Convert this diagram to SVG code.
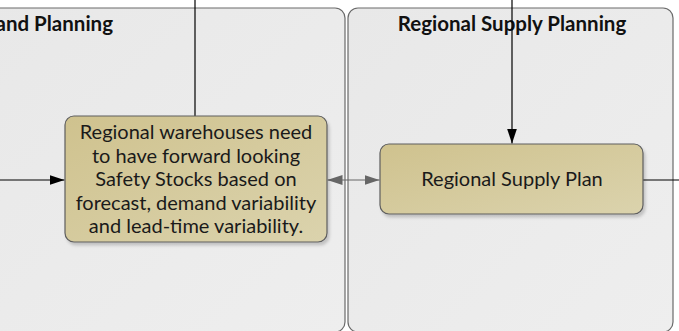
<svg xmlns="http://www.w3.org/2000/svg" width="679" height="331" viewBox="0 0 679 331">
  <style>
    .lane { fill: url(#laneFill); stroke: #6a6a6a; stroke-width: 1.2; }
    .lane-title { font-family: Lato, "Open Sans", sans-serif; font-weight: bold; font-size: 20.5px; fill: #111; }
    .task { fill: url(#taskFill); stroke: #5e5e5e; stroke-width: 1.2; }
    .task-text { font-family: Lato, "Open Sans", sans-serif; font-size: 20px; fill: #1a1a1a; text-anchor: middle; }
    .flow { fill: none; stroke: #000; stroke-width: 1.2; }
    .assoc { fill: none; stroke: #666; stroke-width: 1.2; }
  </style>
  <defs>
    <linearGradient id="laneFill" x1="0" y1="0" x2="1" y2="1">
      <stop offset="0" stop-color="#e8e8e8"/>
      <stop offset="1" stop-color="#eeeeee"/>
    </linearGradient>
    <linearGradient id="taskFill" x1="0" y1="0" x2="1" y2="1">
      <stop offset="0" stop-color="#cfc28e"/>
      <stop offset="1" stop-color="#dbd3ad"/>
    </linearGradient>
    <filter id="shadow" x="-10%" y="-10%" width="125%" height="130%">
      <feDropShadow dx="2" dy="3" stdDeviation="1.5" flood-color="#000" flood-opacity="0.18"/>
    </filter>
    <marker id="arrowBlack" viewBox="0 0 15 11" refX="15" refY="5.5" markerWidth="15" markerHeight="11" markerUnits="userSpaceOnUse" orient="auto">
      <path d="M0,0.5 L15,5.5 L0,10.5 z" fill="#000"/>
    </marker>
    <marker id="arrowGrey" viewBox="0 0 15 11" refX="15" refY="5.5" markerWidth="15" markerHeight="11" markerUnits="userSpaceOnUse" orient="auto-start-reverse">
      <path d="M0,0.5 L15,5.5 L0,10.5 z" fill="#666"/>
    </marker>
  </defs>

  <rect width="679" height="331" fill="#fff"/>

  <!-- swimlanes -->
  <g id="lane-demand">
    <rect class="lane" x="-20" y="8" width="365" height="324" rx="10"/>
    <text class="lane-title" x="113" y="31" text-anchor="end">and Planning</text>
  </g>
  <g id="lane-supply">
    <rect class="lane" x="348" y="8" width="325" height="324" rx="10"/>
    <text class="lane-title" x="512" y="31" text-anchor="middle">Regional Supply Planning</text>
  </g>

  <!-- connectors -->
  <g id="connectors">
    <line class="flow" x1="195" y1="0" x2="195" y2="116"/>
    <line class="flow" x1="0" y1="180" x2="64.5" y2="180" marker-end="url(#arrowBlack)"/>
    <line class="flow" x1="512" y1="0" x2="512" y2="143.5" marker-end="url(#arrowBlack)"/>
    <line class="assoc" x1="327.5" y1="180" x2="379.5" y2="180" marker-start="url(#arrowGrey)" marker-end="url(#arrowGrey)"/>
    <line class="flow" x1="643" y1="180" x2="679" y2="180"/>
  </g>

  <!-- tasks -->
  <g id="task-safety-stock">
    <rect class="task" x="65" y="116" width="262" height="126" rx="9" filter="url(#shadow)"/>
    <text class="task-text" x="196" y="139">Regional warehouses need</text>
    <text class="task-text" x="196" y="162.5">to have forward looking</text>
    <text class="task-text" x="196" y="186">Safety Stocks based on</text>
    <text class="task-text" x="196" y="209.5">forecast, demand variability</text>
    <text class="task-text" x="196" y="233">and lead-time variability.</text>
  </g>
  <g id="task-supply-plan">
    <rect class="task" x="380" y="144" width="263" height="70" rx="9" filter="url(#shadow)"/>
    <text class="task-text" x="512" y="186">Regional Supply Plan</text>
  </g>
</svg>
